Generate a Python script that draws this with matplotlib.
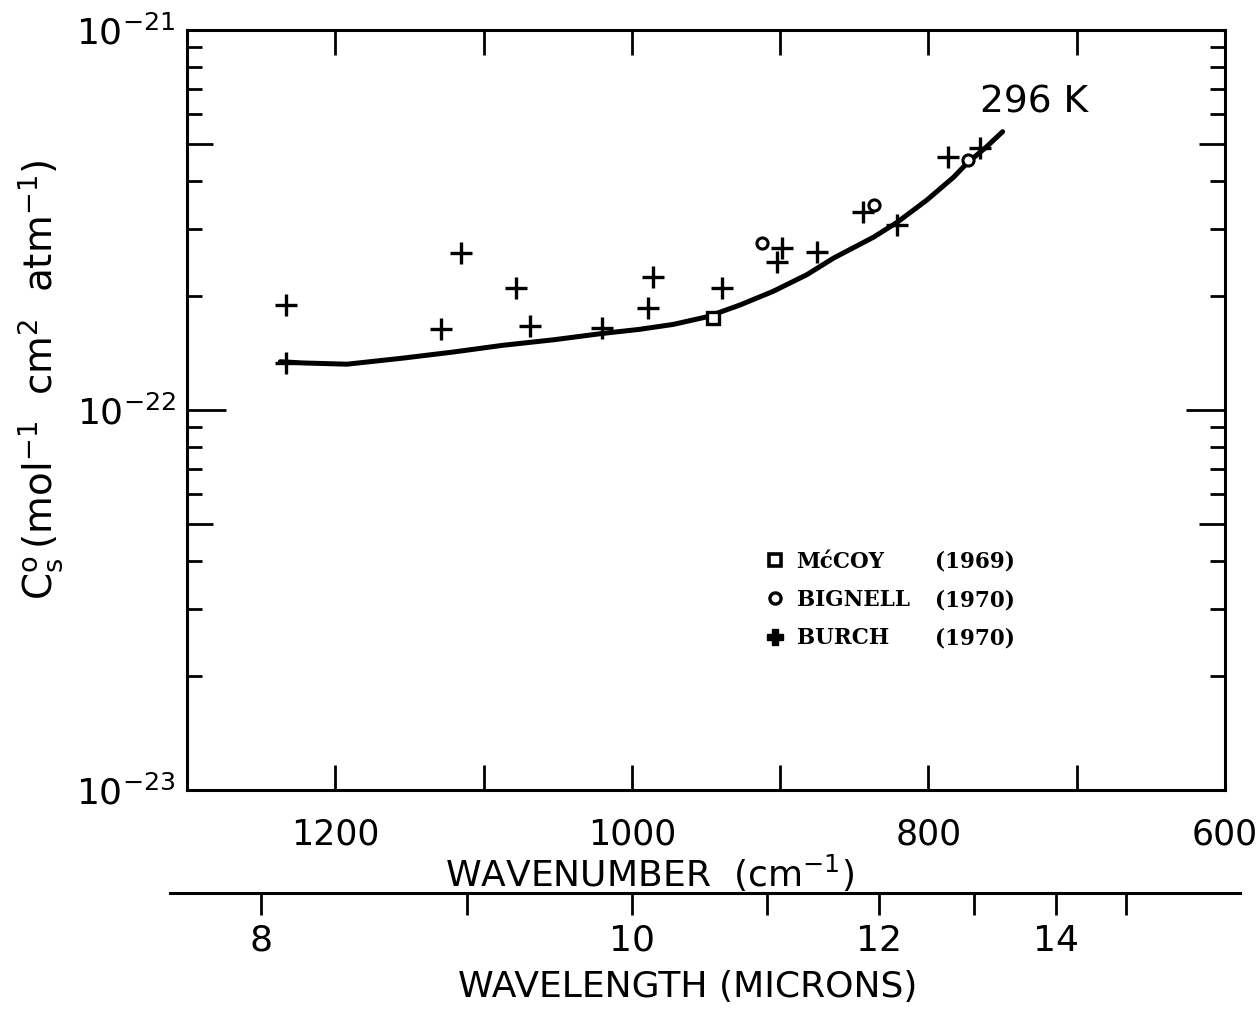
import matplotlib
matplotlib.use("Agg")
import matplotlib.pyplot as plt
from matplotlib.lines import Line2D
from matplotlib.ticker import FixedLocator, NullFormatter, LogLocator, NullLocator

plt.rcParams['font.family'] = ['DejaVu Sans']
plt.rcParams['mathtext.fontset'] = 'dejavusans'

# 296 K curve (wavenumber cm-1, continuum coefficient)
curve_wn = [1237, 1222, 1192, 1154, 1121, 1087, 1053, 1020, 995, 972, 949, 927,
            905, 882, 864, 837, 821, 801, 783, 774, 761, 750]
curve_cs = [1.34e-22, 1.33e-22, 1.32e-22, 1.37e-22, 1.42e-22, 1.48e-22, 1.53e-22,
            1.59e-22, 1.63e-22, 1.68e-22, 1.76e-22, 1.89e-22, 2.05e-22, 2.27e-22,
            2.51e-22, 2.85e-22, 3.12e-22, 3.57e-22, 4.10e-22, 4.46e-22, 4.92e-22,
            5.40e-22]

# measurements
mccoy_wn = [945]
mccoy_cs = [1.75e-22]

bignell_wn = [912, 837, 773]
bignell_cs = [2.75e-22, 3.46e-22, 4.55e-22]

burch_wn = [1233, 1233, 1129, 1115, 1078, 1069, 1020, 989, 986, 939, 899, 902,
            875, 844, 821, 787, 765]
burch_cs = [1.89e-22, 1.33e-22, 1.63e-22, 2.59e-22, 2.09e-22, 1.66e-22, 1.64e-22,
            1.85e-22, 2.24e-22, 2.09e-22, 2.67e-22, 2.45e-22, 2.61e-22, 3.32e-22,
            3.07e-22, 4.64e-22, 4.89e-22]

wn_ticks = [1200, 1100, 1000, 900, 800, 700, 600]
wn_labels = ['1200', '', '1000', '', '800', '', '600']
wl_ticks = [8, 9, 10, 11, 12, 13, 14, 15]
wl_labels = ['8', '', '10', '', '12', '', '14', '']

fig = plt.figure(figsize=(12.58, 10.13), dpi=100)
ax = fig.add_axes([0.1486, 0.2201, 0.8252, 0.7503])

ax.plot(curve_wn, curve_cs, color='black', lw=3.6, solid_capstyle='round',
        solid_joinstyle='round')
ax.plot(burch_wn, burch_cs, ls='none', marker='+', ms=16, mew=2.4, color='black')
ax.plot(bignell_wn, bignell_cs, ls='none', marker='o', ms=8, mew=2.2,
        mfc='white', mec='black')
ax.plot(mccoy_wn, mccoy_cs, ls='none', marker='s', ms=8, mew=2.4,
        mfc='white', mec='black')

ax.set_yscale('log')
ax.set_xlim(1300, 600)
ax.set_ylim(1e-23, 1e-21)

for s in ax.spines.values():
    s.set_linewidth(2.2)

ax.xaxis.set_major_locator(FixedLocator(wn_ticks))
ax.set_xticklabels(wn_labels)
ax.tick_params(axis='x', which='major', direction='in', length=18, width=2,
               top=True, labelsize=25, pad=20)
ax.tick_params(axis='x', which='minor', bottom=False, top=False)

ax.yaxis.set_major_locator(FixedLocator([1e-23, 1e-22, 1e-21]))
ax.set_yticklabels([r'$10^{-23}$', r'$10^{-22}$', r'$10^{-21}$'])
ax.yaxis.set_minor_locator(LogLocator(base=10, subs=[2, 3, 4, 6, 7, 8, 9]))
ax.yaxis.set_minor_formatter(NullFormatter())
ax.tick_params(axis='y', which='major', direction='in', length=28, width=2,
               right=True, labelsize=26, pad=8)
ax.tick_params(axis='y', which='minor', direction='in', length=11, width=2,
               right=True)

# the medium ticks at 5 x 10^n
for side in ['left', 'right']:
    sec = ax.secondary_yaxis(side)
    sec.set_yscale('log')
    sec.yaxis.set_major_locator(FixedLocator([5e-23, 5e-22]))
    sec.yaxis.set_minor_locator(NullLocator())
    sec.yaxis.set_major_formatter(NullFormatter())
    sec.tick_params(direction='in', length=19, width=2)
    sec.spines[side].set_visible(False)

ax.set_xlabel(r'WAVENUMBER  (cm$^{-1}$)', fontsize=26, labelpad=2)
ax.xaxis.set_label_coords(0.446, -0.083)
ax.set_ylabel(r'$\mathrm{C_s^o}\,$(mol$^{-1}$  cm$^2$  atm$^{-1}$)', fontsize=28)
ax.yaxis.set_label_coords(-0.1175, 0.54)

ax.text(765, 6.43e-22, '296 K', fontsize=27, ha='left', va='center')

# legend: names column, then years column
h_sq = Line2D([], [], ls='none', marker='s', ms=8, mew=2.6, mfc='white', mec='black')
h_ci = Line2D([], [], ls='none', marker='o', ms=8, mew=2.4, mfc='white', mec='black')
h_pl = Line2D([], [], ls='none', marker='P', ms=11, color='black')
h_no = Line2D([], [], ls='none')
leg = ax.legend([h_sq, h_ci, h_pl, h_no, h_no, h_no],
                ['MćCOY', 'BIGNELL', 'BURCH', '(1969)', '(1970)', '(1970)'],
                ncol=2, frameon=False, loc='center left',
                bbox_to_anchor=(0.5395, 0.25), handlelength=0.8,
                handletextpad=0.6, columnspacing=-0.2, labelspacing=0.75,
                prop={'family': 'DejaVu Serif', 'weight': 'bold', 'size': 15.5})

# wavelength scale below
wax = fig.add_axes([0.1351, 0.1185, 0.8506, 0.0001])
wax.set_xlim(1311.5, 589.9)
wax.set_ylim(0, 1)
for k in ['top', 'left', 'right']:
    wax.spines[k].set_visible(False)
wax.spines['bottom'].set_linewidth(2.2)
wax.set_yticks([])
wax.xaxis.set_major_locator(FixedLocator([1e4 / w for w in wl_ticks]))
wax.set_xticklabels(wl_labels)
wax.tick_params(axis='x', direction='out', length=16, width=2, labelsize=26, pad=6)
wax.set_xlabel('WAVELENGTH (MICRONS)', fontsize=26)
wax.xaxis.set_label_coords(0.484, -760)

fig.savefig('out.png', dpi=100)
